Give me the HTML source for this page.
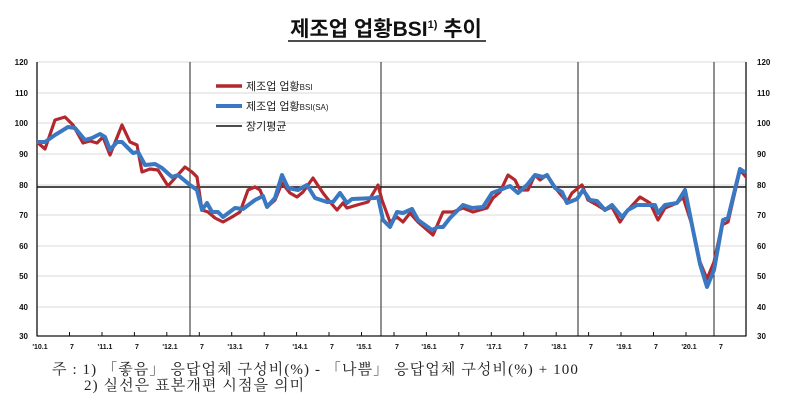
<!DOCTYPE html>
<html><head><meta charset="utf-8"><style>
body{margin:0;background:#fff;width:789px;height:402px;overflow:hidden}
svg{display:block}
.t{font-family:"Liberation Sans","Noto Sans CJK KR",sans-serif;font-weight:bold;font-size:8px;fill:#111}
.x{font-family:"Liberation Sans","Noto Sans CJK KR",sans-serif;font-weight:bold;font-size:7px;fill:#111}
.lg{font-family:"Liberation Sans","Noto Sans CJK KR",sans-serif;font-size:11px;fill:#222}
.fn{font-family:"Liberation Serif","Noto Serif CJK KR","Noto Serif CJK SC",serif;font-size:15px;fill:#222;letter-spacing:1.1px}
</style></head><body>
<svg width="789" height="402" viewBox="0 0 789 402">
<text x="386" y="36" text-anchor="middle" style="font-family:'Liberation Sans','Noto Sans CJK KR',sans-serif;font-weight:bold;font-size:21px;fill:#111">제조업 업황BSI<tspan font-size="11" dy="-8">1)</tspan><tspan dy="8"> 추이</tspan></text>
<line x1="288" y1="41" x2="486" y2="41" stroke="#111" stroke-width="1.5"/>
<g stroke="#d8d8d8" stroke-width="1">
<line x1="37" y1="62" x2="746" y2="62"/><line x1="37" y1="93" x2="746" y2="93"/><line x1="37" y1="123" x2="746" y2="123"/><line x1="37" y1="154" x2="746" y2="154"/><line x1="37" y1="185" x2="746" y2="185"/><line x1="37" y1="215" x2="746" y2="215"/><line x1="37" y1="246" x2="746" y2="246"/><line x1="37" y1="276" x2="746" y2="276"/><line x1="37" y1="307" x2="746" y2="307"/>
</g>
<g stroke="#222" stroke-width="1">
<line x1="190" y1="62" x2="190" y2="336"/><line x1="381" y1="62" x2="381" y2="336"/><line x1="578" y1="62" x2="578" y2="336"/><line x1="714" y1="62" x2="714" y2="336"/>
</g>
<g stroke="#111" stroke-width="1.3" fill="none">
<line x1="37" y1="62" x2="37" y2="336.5"/><line x1="746" y1="62" x2="746" y2="336.5"/><line x1="37" y1="336" x2="746" y2="336"/>
</g>
<g stroke="#111" stroke-width="1">
<line x1="69.5" y1="332" x2="69.5" y2="336"/><line x1="102" y1="332" x2="102" y2="336"/><line x1="134.4" y1="332" x2="134.4" y2="336"/><line x1="166.8" y1="332" x2="166.8" y2="336"/><line x1="199.3" y1="332" x2="199.3" y2="336"/><line x1="231.7" y1="332" x2="231.7" y2="336"/><line x1="264.2" y1="332" x2="264.2" y2="336"/><line x1="296.6" y1="332" x2="296.6" y2="336"/><line x1="329" y1="332" x2="329" y2="336"/><line x1="361.5" y1="332" x2="361.5" y2="336"/><line x1="394" y1="332" x2="394" y2="336"/><line x1="426.4" y1="332" x2="426.4" y2="336"/><line x1="458.8" y1="332" x2="458.8" y2="336"/><line x1="491.3" y1="332" x2="491.3" y2="336"/><line x1="523.7" y1="332" x2="523.7" y2="336"/><line x1="556.2" y1="332" x2="556.2" y2="336"/><line x1="588.6" y1="332" x2="588.6" y2="336"/><line x1="621" y1="332" x2="621" y2="336"/><line x1="653.5" y1="332" x2="653.5" y2="336"/><line x1="686" y1="332" x2="686" y2="336"/>
</g>
<line x1="37" y1="187" x2="746" y2="187" stroke="#111" stroke-width="1.6"/>
<polyline fill="none" stroke="#b3282d" stroke-width="3.2" stroke-linejoin="round" points="37,142 45,149 55,120 65,117 73,125 83,143 90,141 97,143 103,137 110,155 122,125 130,142 137,145 142,172 150,169 158,170 168,186 175,178 185,167 192,172 197,177 202,210 208,212 215,218 223,222 232,217 240,212 248,190 255,187 260,190 267,207 275,200 282,183 290,193 297,197 303,192 313,178 323,193 330,202 337,210 343,203 347,208 357,205 368,202 378,185 382,200 390,222 397,217 403,222 410,213 418,222 433,235 443,212 453,212 463,208 473,212 487,208 493,198 500,192 508,175 515,180 520,190 528,190 535,175 540,180 547,175 557,190 567,202 572,193 582,185 588,200 597,205 605,210 612,207 620,222 628,210 640,197 650,203 658,220 665,208 677,203 683,197 692,225 700,262 707,279 714,262 722,225 728,222 740,170 746,177"/>
<polyline fill="none" stroke="#3a78c2" stroke-width="4" stroke-linejoin="round" points="37,142 45,142 55,135 68,127 75,128 85,140 92,138 100,134 105,137 110,150 117,142 122,142 133,153 138,152 145,165 155,164 162,168 172,177 178,175 190,185 197,190 202,210 207,203 212,212 218,212 223,217 235,208 243,209 255,200 263,196 267,207 275,198 282,175 288,188 298,190 307,185 315,198 327,202 333,202 340,193 347,203 352,199 375,198 378,197 383,220 390,227 397,212 403,213 412,209 418,220 432,230 438,227 443,227 450,218 463,205 472,208 483,207 492,193 500,190 510,186 518,193 527,185 535,175 543,177 547,175 555,188 562,192 567,203 577,199 583,190 590,200 597,201 605,210 612,205 622,217 628,210 637,205 655,205 658,213 665,205 677,203 685,190 693,230 700,264 707,287 714,270 723,220 728,218 740,169 746,173"/>
<line x1="216" y1="86" x2="242" y2="86" stroke="#b3282d" stroke-width="3.5"/>
<line x1="216" y1="106" x2="242" y2="106" stroke="#3a78c2" stroke-width="4"/>
<line x1="216" y1="126" x2="242" y2="126" stroke="#111" stroke-width="1.6"/>
<text class="lg" x="246" y="90">제조업 업황<tspan font-size="8">BSI</tspan></text>
<text class="lg" x="246" y="110">제조업 업황<tspan font-size="8">BSI(SA)</tspan></text>
<text class="lg" x="246" y="130">장기평균</text>
<g class="t" text-anchor="end">
<text x="28" y="65">120</text><text x="28" y="96">110</text><text x="28" y="126">100</text><text x="28" y="157">90</text><text x="28" y="188">80</text><text x="28" y="218">70</text><text x="28" y="249">60</text><text x="28" y="279">50</text><text x="28" y="310">40</text><text x="28" y="339">30</text>
</g>
<g class="t">
<text x="757" y="65">120</text><text x="757" y="96">110</text><text x="757" y="126">100</text><text x="757" y="157">90</text><text x="757" y="188">80</text><text x="757" y="218">70</text><text x="757" y="249">60</text><text x="757" y="279">50</text><text x="757" y="310">40</text><text x="757" y="339">30</text>
</g>
<g class="x" text-anchor="middle">
<text x="40" y="349">'10.1</text><text x="72" y="349">7</text><text x="105" y="349">'11.1</text><text x="137" y="349">7</text><text x="170" y="349">'12.1</text><text x="202" y="349">7</text><text x="235" y="349">'13.1</text><text x="267" y="349">7</text><text x="300" y="349">'14.1</text><text x="332" y="349">7</text><text x="364" y="349">'15.1</text><text x="397" y="349">7</text><text x="429" y="349">'16.1</text><text x="462" y="349">7</text><text x="494" y="349">'17.1</text><text x="526" y="349">7</text><text x="559" y="349">'18.1</text><text x="591" y="349">7</text><text x="624" y="349">'19.1</text><text x="656" y="349">7</text><text x="689" y="349">'20.1</text><text x="721" y="349">7</text>
</g>
<text class="fn" x="52" y="374">주 : 1) 「좋음」 응답업체 구성비(%) - 「나쁨」 응답업체 구성비(%) + 100</text>
<text class="fn" x="84" y="390">2) 실선은 표본개편 시점을 의미</text>
</svg>
</body></html>
